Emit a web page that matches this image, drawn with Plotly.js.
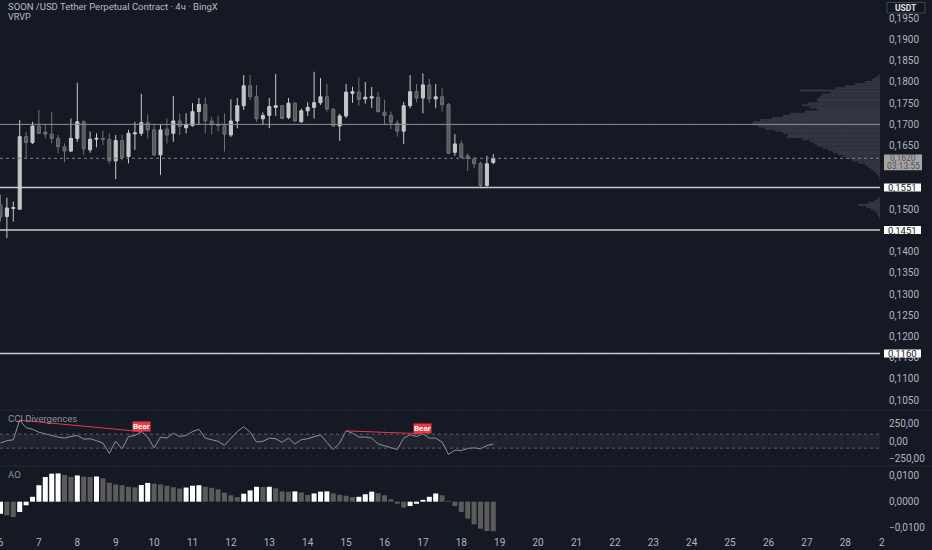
<!DOCTYPE html>
<html><head><meta charset="utf-8">
<script src="https://cdn.plot.ly/plotly-3.0.1.min.js"></script>
<style>html,body{margin:0;padding:0;background:#151924;overflow:hidden}#chart{width:932px;height:550px}</style>
</head><body><div id="chart"></div>
<script>
// ---- data ----
const startUTC = Date.UTC(2025, 7, 6, 0, 0);   // first 4h candle
const barHours = 4;
const open = [0.1510,0.1483,0.1502,0.1500,0.1671,0.1657,0.1696,0.1682,0.1677,0.1667,
0.1647,0.1637,0.1667,0.1706,0.1640,0.1665,0.1667,0.1665,0.1614,0.1662,
0.1624,0.16775,0.1679,0.1704,0.1687,0.1628,0.1689,0.1679,0.1708,0.1692,
0.1697,0.1730,0.1747,0.1708,0.1700,0.1697,0.1675,0.1708,0.1744,0.1791,
0.1765,0.1713,0.1721,0.1740,0.1744,0.1716,0.1750,0.1706,0.1732,0.1740,
0.1751,0.1765,0.1736,0.1696,0.1720,0.1773,0.1776,0.1760,0.1762,0.1764,
0.1729,0.1721,0.1703,0.1684,0.1744,0.1777,0.1762,0.1793,0.1760,0.1765,
0.1747,0.1634,0.1654,0.1626,0.1618,0.1608,0.1556,0.1610];
const high = [0.1534,0.1527,0.1518,0.1710,0.1683,0.1706,0.1734,0.1699,0.1729,0.1675,
0.1655,0.1714,0.1798,0.1710,0.1683,0.1679,0.1685,0.1679,0.1675,0.1675,
0.1687,0.1706,0.1772,0.1724,0.1699,0.1699,0.1714,0.1767,0.1726,0.1726,
0.1750,0.1762,0.1764,0.1718,0.1721,0.1726,0.1759,0.1762,0.1816,0.1816,
0.1793,0.1728,0.1762,0.1819,0.1746,0.1762,0.1752,0.1737,0.1752,0.1824,
0.1809,0.1796,0.1738,0.1725,0.1795,0.1789,0.1811,0.1800,0.1788,0.1777,
0.1758,0.1730,0.1710,0.1753,0.1816,0.1795,0.1820,0.1807,0.1795,0.1785,
0.1750,0.1677,0.1661,0.1632,0.1624,0.1612,0.1626,0.1630];
const low = [0.1471,0.1432,0.1471,0.1499,0.1620,0.1654,0.1677,0.1667,0.1655,0.1632,
0.1611,0.1635,0.1659,0.1628,0.1633,0.1646,0.1651,0.1608,0.1571,0.1615,
0.1608,0.1640,0.1673,0.1667,0.1626,0.1581,0.1655,0.1659,0.1675,0.1679,
0.1695,0.1699,0.1679,0.1677,0.1683,0.1636,0.1670,0.1691,0.1734,0.1757,
0.1706,0.1699,0.1691,0.1720,0.1712,0.1712,0.1706,0.1704,0.1720,0.1714,
0.1746,0.1730,0.1694,0.1661,0.1715,0.1751,0.1744,0.1749,0.1739,0.1728,
0.1700,0.1689,0.1671,0.1654,0.1738,0.1752,0.1726,0.1750,0.1738,0.1730,
0.1630,0.1626,0.1621,0.1590,0.1597,0.1549,0.1553,0.1606];
const close = [0.1482,0.1503,0.1504,0.1671,0.1657,0.1696,0.1679,0.1677,0.1667,0.1647,
0.1637,0.1667,0.1706,0.1642,0.1665,0.1667,0.1665,0.1614,0.1662,0.1622,
0.1679,0.1680,0.1704,0.1687,0.1628,0.1687,0.1675,0.1708,0.1695,0.1699,
0.1730,0.1747,0.1708,0.1699,0.1697,0.1677,0.1708,0.1744,0.1791,0.1765,
0.1713,0.1721,0.1742,0.1744,0.1714,0.1750,0.1708,0.1732,0.1740,0.1751,
0.1765,0.1736,0.1696,0.1720,0.1776,0.1777,0.1759,0.1764,0.1765,0.1730,
0.1721,0.1705,0.1684,0.1744,0.1777,0.1762,0.1793,0.1760,0.1765,0.1746,
0.1632,0.1654,0.1622,0.1620,0.1607,0.1556,0.1607,0.1620];
const cci = [-26,7,21,300,193,170,128,100,81,58,
44,67,81,30,35,7,-26,-174,-2,-109,
67,81,137,58,-95,58,44,114,67,81,
137,170,44,21,-2,-58,44,137,207,128,
-12,-2,44,35,-16,44,-40,21,35,58,
91,-16,-119,-26,147,114,58,58,44,-40,
-63,-95,-119,44,91,67,105,44,44,-12,
-188,-128,-133,-105,-95,-109,-63,-40];
const ao = [-0.0047,-0.0053,-0.0060,-0.0040,-0.0014,0.0019,0.0064,0.0096,0.0109,0.0110,
0.0104,0.0096,0.0102,0.0097,0.0096,0.0098,0.0091,0.0074,0.0067,0.0064,
0.0058,0.0056,0.0065,0.0073,0.0070,0.0067,0.0062,0.0056,0.0051,0.0055,
0.0062,0.0064,0.0058,0.0054,0.0048,0.0035,0.0025,0.0018,0.0031,0.0044,
0.0058,0.0057,0.0058,0.0052,0.0040,0.0038,0.0040,0.0036,0.0026,0.0032,
0.0039,0.0040,0.0032,0.0027,0.0023,0.0018,0.0019,0.0029,0.0039,0.0033,
0.0025,0.0009,-0.0008,-0.0023,-0.0017,-0.0008,0.0007,0.0019,0.0032,0.0025,
0.0003,-0.0017,-0.0040,-0.0066,-0.0088,-0.0105,-0.0114,-0.0115];
const bearFrom = [3, 54];
const bearTo = [22, 66];
const vpPrices = [0.1480,0.1485,0.1490,0.1495,0.1500,0.1505,0.1510,0.1515,0.1520,0.1525,
0.1575,0.1580,0.1585,0.1590,0.1595,0.1600,0.1605,0.1610,0.1615,0.1620,
0.1625,0.1630,0.1635,0.1640,0.1645,0.1650,0.1655,0.1660,0.1665,0.1670,
0.1675,0.1680,0.1685,0.1690,0.1695,0.1700,0.1705,0.1710,0.1715,0.1720,
0.1725,0.1730,0.1735,0.1740,0.1745,0.1750,0.1755,0.1760,0.1765,0.1770,
0.1775,0.1780,0.1785,0.1790,0.1795,0.1800,0.1805,0.1810,0.1815];
const vpVolumes = [1,2,3,5,9,14,22,12,6,2,
1,2,4,6,9,12,15,22,28,32,
37,42,47,52,58,63,66,70,78,93,
92,97,105,115,122,128,127,120,108,97,
90,75,63,70,78,72,62,63,60,58,
50,80,45,35,25,15,8,5,2];
const levels = [0.1551, 0.1451, 0.1160];
const levelLabels = ['0,1551', '0,1451', '0,1160'];
const pocLevel = 0.1700;
const lastPriceLabel = '0,1620';
const countdown = '03:13:55';
const priceTicks = [0.105,0.110,0.115,0.120,0.125,0.130,0.135,0.140,0.150,0.165,0.170,0.175,0.180,0.185,0.190,0.195];
const priceTickText = ['0,1050','0,1100','0,1150','0,1200','0,1250','0,1300','0,1350','0,1400','0,1500','0,1650','0,1700','0,1750','0,1800','0,1850','0,1900','0,1950'];
const cciTicks = [-250, 0, 250];
const cciTickText = ['\u2212250,00', '0,00', '250,00'];
const aoTicks = [-0.01, 0, 0.01];
const aoTickText = ['\u22120,0100', '0,0000', '0,0100'];
const titleText = 'SOON /USD Tether Perpetual Contract \u00b7 4\u0447 \u00b7 BingX';

// ---- helpers / view ----
const HOUR = 3600000, DAY = 86400000;
function fmt(ms){ return new Date(ms).toISOString().replace('T',' ').slice(0,19); }
const times = open.map((_, i) => fmt(startUTC + i * barHours * HOUR));
const pxPerDay = 38.4, plotW = 880;
const xr = [fmt(startUTC - 0.5 / pxPerDay * DAY), fmt(startUTC + (plotW - 0.5) / pxPerDay * DAY)];
const yMain = [0.10268, 0.19931], yCci = [-354, 431], yAo = [-0.01296, 0.01389];
const domMain = [0.2336, 1], domCci = [0.129, 0.2318], domAo = [0, 0.129];
const ppp = (yMain[1] - yMain[0]) / 410; // price per pixel in main pane
const lastClose = close[close.length - 1];
const aoColors = ao.map((v, i) => (i === 0 || v > ao[i - 1]) ? '#ffffff' : '#5b5b5b');
const FONT = 'Roboto, "Liberation Sans", Arial, sans-serif';
const TXT = '#b2b5be';

const traces = [
  { type:'bar', orientation:'h', x: vpVolumes, y: vpPrices, xaxis:'x2', yaxis:'y',
    width: 0.00048, marker:{color:'rgba(128,131,142,0.28)', line:{width:0}}, hoverinfo:'skip' },
  { type:'candlestick', x: times, open, high, low, close, xaxis:'x', yaxis:'y',
    increasing:{line:{color:'#c9c9c9', width:1}, fillcolor:'#c4c4c4'},
    decreasing:{line:{color:'#707070', width:1}, fillcolor:'#575757'},
    whiskerwidth:0, hoverinfo:'skip' },
  { type:'scatter', mode:'lines', x: times, y: cci, xaxis:'x', yaxis:'y2',
    line:{color:'#8f929b', width:1}, hoverinfo:'skip' },
  { type:'bar', x: times, y: ao, xaxis:'x', yaxis:'y3', width: barHours * HOUR * 0.78,
    marker:{color: aoColors, line:{width:0}}, hoverinfo:'skip' }
];
bearFrom.forEach((a, k) => {
  const b = bearTo[k];
  traces.push({ type:'scatter', mode:'lines', x:[times[a], times[b]], y:[cci[a], cci[b]],
    xaxis:'x', yaxis:'y2', line:{color:'#f23645', width:1}, hoverinfo:'skip' });
});

const shapes = [
  {type:'line', xref:'paper', yref:'paper', x0:0, x1:1.06, y0:domMain[0], y1:domMain[0], line:{color:'#262a35', width:1}},
  {type:'line', xref:'paper', yref:'paper', x0:0, x1:1.06, y0:domCci[0], y1:domCci[0], line:{color:'#262a35', width:1}},
  {type:'rect', xref:'paper', yref:'y2', x0:0, x1:1, y0:-100, y1:100, fillcolor:'rgba(120,123,134,0.12)', line:{width:0}, layer:'below'},
  {type:'line', xref:'paper', yref:'y2', x0:0, x1:1, y0:100, y1:100, line:{color:'#5d606b', width:1, dash:'dot'}},
  {type:'line', xref:'paper', yref:'y2', x0:0, x1:1, y0:-100, y1:-100, line:{color:'#5d606b', width:1, dash:'dot'}},
  {type:'line', xref:'paper', yref:'y', x0:0, x1:1, y0:pocLevel, y1:pocLevel, line:{color:'#8e919a', width:1}},
  {type:'line', xref:'paper', yref:'y', x0:0, x1:1, y0:lastClose, y1:lastClose, line:{color:'#7d808a', width:1, dash:'dot'}},
  {type:'rect', xref:'paper', yref:'paper', x0:887/880, x1:925/880, y0:1-13/535, y1:1-2.5/535, fillcolor:'#131722', line:{color:'#434651', width:1}},
  {type:'rect', xref:'paper', yref:'y', x0:884/880, x1:922/880, y0:lastClose - 12*ppp, y1:lastClose + 3.8*ppp, fillcolor:'#a5a5a5', line:{width:0}}
];
levels.forEach(l => {
  shapes.push({type:'line', xref:'paper', yref:'y', x0:0, x1:1, y0:l, y1:l, line:{color:'#c8cad0', width:1.5}});
  shapes.push({type:'rect', xref:'paper', yref:'y', x0:884/880, x1:921/880, y0:l - 4*ppp, y1:l + 4*ppp, fillcolor:'#ffffff', line:{width:0}});
});

const annotations = [
  {xref:'paper', yref:'paper', x:6/880, y:1-6.5/535, xanchor:'left', yanchor:'middle', showarrow:false, text:titleText, font:{family:FONT, size:9.5, color:'#b7bac3'}},
  {xref:'paper', yref:'paper', x:6/880, y:1-16.5/535, xanchor:'left', yanchor:'middle', showarrow:false, text:'VRVP', font:{family:FONT, size:9, color:'#b7bac3'}},
  {xref:'paper', yref:'paper', x:6/880, y:1-418/535, xanchor:'left', yanchor:'middle', showarrow:false, text:'CCI Divergences', font:{family:FONT, size:9.5, color:'#8f929b'}},
  {xref:'paper', yref:'paper', x:6/880, y:1-474/535, xanchor:'left', yanchor:'middle', showarrow:false, text:'AO', font:{family:FONT, size:9.5, color:'#8f929b'}},
  {xref:'paper', yref:'paper', x:906/880, y:1-7.8/535, xanchor:'center', yanchor:'middle', showarrow:false, text:'<b>USDT</b>', font:{family:FONT, size:8.5, color:'#e0e3eb'}},
  {xref:'paper', yref:'y', x:903/880, y:lastClose + 0.2*ppp, xanchor:'center', yanchor:'middle', showarrow:false, text:lastPriceLabel, font:{family:FONT, size:8.5, color:'#4e4e4e'}},
  {xref:'paper', yref:'y', x:903/880, y:lastClose - 8*ppp, xanchor:'center', yanchor:'middle', showarrow:false, text:countdown, font:{family:FONT, size:8.5, color:'#4e4e4e'}},
  {xref:'paper', yref:'paper', x:881.5/880, y:-7.5/535, xanchor:'center', yanchor:'middle', showarrow:false, text:'2', font:{family:FONT, size:10, color:TXT}}
];
levels.forEach((l, k) => annotations.push({xref:'paper', yref:'y', x:902.5/880, y:l, xanchor:'center', yanchor:'middle', showarrow:false,
  text:levelLabels[k], font:{family:FONT, size:9.5, color:'#131722'}}));
bearTo.forEach(b => annotations.push({xref:'x', yref:'y2', x:times[b], y:cci[b], xanchor:'center', yanchor:'bottom', showarrow:false,
  text:'<b>Bear</b>', bgcolor:'#f23645', borderpad:0, font:{family:FONT, size:8, color:'#ffffff'}}));

const yCommon = {side:'right', showgrid:false, zeroline:false, showline:false, ticks:'', ticklabelstandoff:8,
  tickfont:{family:FONT, size:10, color:TXT}, fixedrange:true};
const layout = {
  width:932, height:550, margin:{l:0, r:52, t:0, b:15},
  paper_bgcolor:'#151924', plot_bgcolor:'#151924', showlegend:false, hovermode:false,
  boxgap:0.32,
  xaxis:{type:'date', range:xr, anchor:'y3', rangeslider:{visible:false}, tickformat:'%-d', dtick:DAY, tick0:'2025-08-06',
    showgrid:true, gridcolor:'#191d29', zeroline:false, showline:false, ticks:'', ticklabeloverflow:'allow',
    tickfont:{family:FONT, size:10, color:TXT}, fixedrange:true},
  xaxis2:{overlaying:'x', anchor:'y', range:[plotW, 0], visible:false, fixedrange:true},
  yaxis:Object.assign({}, yCommon, {domain:domMain, range:yMain, tickvals:priceTicks, ticktext:priceTickText}),
  yaxis2:Object.assign({}, yCommon, {domain:domCci, range:yCci, tickvals:cciTicks, ticktext:cciTickText}),
  yaxis3:Object.assign({}, yCommon, {domain:domAo, range:yAo, tickvals:aoTicks, ticktext:aoTickText}),
  shapes, annotations
};
Plotly.newPlot('chart', traces, layout, {displayModeBar:false, staticPlot:true});
</script></body></html>
